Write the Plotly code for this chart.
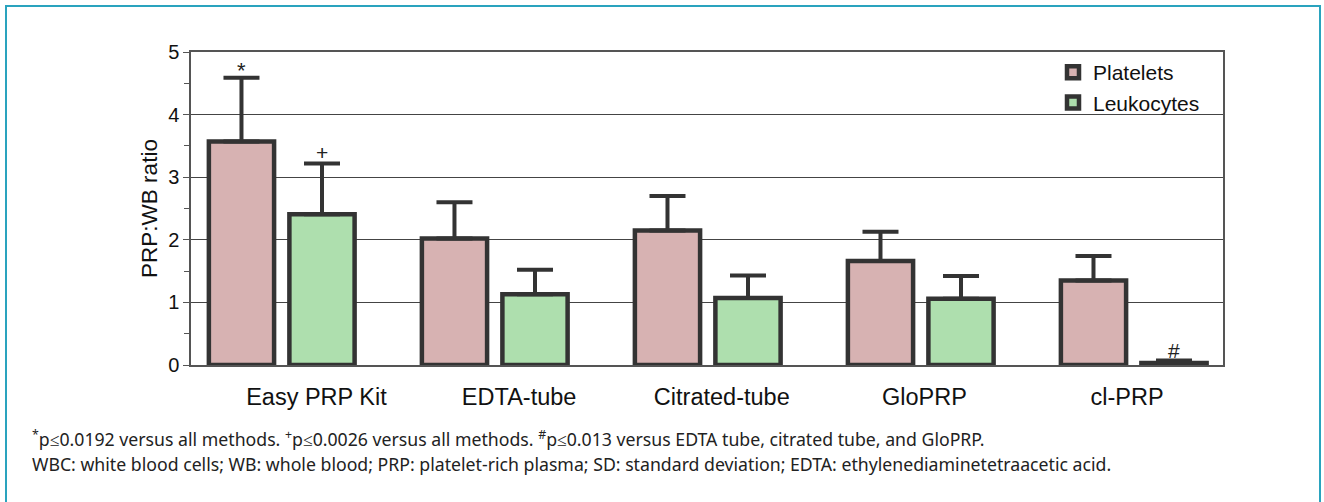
import plotly.graph_objects as go

categories = ["Easy PRP Kit", "EDTA-tube", "Citrated-tube", "GloPRP", "cl-PRP"]
platelets = [3.57, 2.02, 2.15, 1.66, 1.35]
platelets_sd = [1.02, 0.58, 0.55, 0.47, 0.39]
leukocytes = [2.41, 1.13, 1.07, 1.06, 0.03]
leukocytes_sd = [0.81, 0.39, 0.36, 0.36, 0.04]
platelet_marks = ["*", "", "", "", ""]
leukocyte_marks = ["+", "", "", "", "#"]
y_ticks = [0, 1, 2, 3, 4, 5]
footnote_1 = ("<sup>*</sup>p≤0.0192 versus all methods. <sup>+</sup>p≤0.0026 versus all methods. "
              "<sup>#</sup>p≤0.013 versus EDTA tube, citrated tube, and GloPRP.")
footnote_2 = ("WBC: white blood cells; WB: whole blood; PRP: platelet-rich plasma; "
              "SD: standard deviation; EDTA: ethylenediaminetetraacetic acid.")

W, H = 1324, 502
ML, MR, MT, MB = 191, 101, 52, 137
PW, PH = W - ML - MR, H - MT - MB

def px_x(x):
    return (x - ML) / PW

def px_y(y):
    return (H - MB - y) / PH

mark_style = {"*": dict(size=22, yshift=-7), "+": dict(size=21, yshift=-3),
              "#": dict(size=21, yshift=-3)}

edge = "#333333"
fig = go.Figure()
fig.add_trace(go.Bar(
    x=categories, y=platelets, name="Platelets",
    marker=dict(color="#D7B2B2", line=dict(color=edge, width=4.5)),
    error_y=dict(type="data", array=platelets_sd, arrayminus=[0] * len(platelets),
                 color=edge, thickness=4, width=18),
))
fig.add_trace(go.Bar(
    x=categories, y=leukocytes, name="Leukocytes",
    marker=dict(color="#AEDFAE", line=dict(color=edge, width=4.5)),
    error_y=dict(type="data", array=leukocytes_sd, arrayminus=[0] * len(leukocytes),
                 color=edge, thickness=4, width=18),
))

annotations = []
for vals, sds, marks, shift in ((platelets, platelets_sd, platelet_marks, -40),
                                (leukocytes, leukocytes_sd, leukocyte_marks, 40)):
    for c, v, s, m in zip(categories, vals, sds, marks):
        if m:
            st = mark_style[m]
            annotations.append(dict(x=c, y=v + s, xref="x", yref="y", text=m, showarrow=False,
                                    yanchor="bottom", xshift=shift, yshift=st["yshift"],
                                    font=dict(family="Liberation Sans, Arial", size=st["size"],
                                              color="#222")))

annotations.append(dict(x=px_x(30), y=px_y(438), xref="paper", yref="paper", text=footnote_1,
                        showarrow=False, xanchor="left", yanchor="middle", align="left",
                        font=dict(family="Noto Sans", size=17.7, color="#222")))
annotations.append(dict(x=px_x(30), y=px_y(464), xref="paper", yref="paper", text=footnote_2,
                        showarrow=False, xanchor="left", yanchor="middle", align="left",
                        font=dict(family="Noto Sans", size=17.7, color="#222")))

fig.update_layout(
    width=W, height=H,
    margin=dict(l=ML, r=MR, t=MT, b=MB),
    paper_bgcolor="white", plot_bgcolor="white",
    barmode="group", bargap=0.244, bargroupgap=0.19,
    font=dict(family="Liberation Sans, Arial", size=18, color="#111"),
    showlegend=True,
    legend=dict(x=px_x(1053), y=px_y(52), xanchor="left", yanchor="top",
                bgcolor="rgba(0,0,0,0)", font=dict(size=21), tracegroupgap=0),
    xaxis=dict(type="category", range=[-0.426, 4.419], showticklabels=False, ticks="",
               showline=True, linecolor="#555", linewidth=1.5, mirror=True, showgrid=False),
    xaxis2=dict(overlaying="x", anchor="y", side="bottom", range=[-0.619, 4.473],
                tickvals=list(range(len(categories))), ticktext=categories, ticks="",
                showline=False, showgrid=False, zeroline=False, ticklabelstandoff=15,
                tickfont=dict(size=23.5, color="#111")),
    yaxis=dict(range=[0, 5], tickvals=y_ticks, ticks="outside", ticklen=6, tickcolor="#555",
               showline=True, linecolor="#555", linewidth=1.5, mirror=True,
               showgrid=True, gridcolor="#444", gridwidth=1, zeroline=False,
               tickfont=dict(size=20, color="#111"),
               minor=dict(dtick=0.5, ticks="outside", ticklen=5, tickcolor="#555", showgrid=False),
               title=dict(text="PRP:WB ratio", font=dict(size=22.5, color="#111"), standoff=4)),
    annotations=annotations,
    shapes=[dict(type="rect", xref="paper", yref="paper",
                 x0=px_x(6), x1=px_x(1320), y0=px_y(520), y1=px_y(6),
                 line=dict(color="#2AA3BE", width=2), fillcolor="rgba(0,0,0,0)", layer="below")],
)
fig.add_trace(go.Scatter(x=[0], y=[0], xaxis="x2", yaxis="y", mode="markers",
                         marker=dict(opacity=0), showlegend=False, hoverinfo="skip"))

fig.write_html("out.html", config={"displayModeBar": False},
               post_script="document.body.style.margin='0px';")
